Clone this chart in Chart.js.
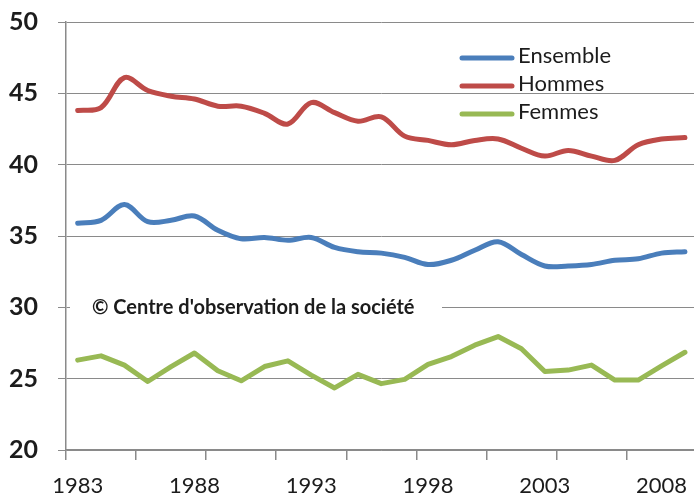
<!DOCTYPE html>
<html>
<head>
<meta charset="utf-8">
<script src="https://cdn.jsdelivr.net/npm/chart.js@4.4.1/dist/chart.umd.min.js"></script>
<style>
  html, body { margin: 0; padding: 0; background: #fff; overflow: hidden; }
  #wrap { width: 700px; height: 495px; }
</style>
</head>
<body>
<div id="wrap"><canvas id="chart"></canvas></div>
<script>
const years = ['1983','1984','1985','1986','1987','1988','1989','1990','1991','1992','1993','1994','1995',
               '1996','1997','1998','1999','2000','2001','2002','2003','2004','2005','2006','2007','2008','2009'];
const ensemble = [35.9, 36.1, 37.2, 36.0, 36.1, 36.4, 35.4, 34.8, 34.9, 34.7, 34.9, 34.2, 33.9,
                  33.8, 33.5, 33.0, 33.3, 34.0, 34.6, 33.7, 32.9, 32.9, 33.0, 33.3, 33.4, 33.8, 33.9];
const hommes = [43.8, 44.0, 46.1, 45.2, 44.8, 44.6, 44.1, 44.1, 43.6, 42.85, 44.35, 43.65, 43.05,
                43.35, 42.0, 41.7, 41.4, 41.7, 41.8, 41.15, 40.6, 41.0, 40.6, 40.3, 41.4, 41.8, 41.9];
const femmes = [26.3, 26.6, 25.95, 24.8, 25.85, 26.8, 25.55, 24.85, 25.85, 26.25, 25.25, 24.35, 25.3,
                24.65, 24.95, 26.0, 26.55, 27.35, 27.95, 27.1, 25.5, 25.6, 25.95, 24.9, 24.9, 25.9, 26.85];
const xTickLabels = ['1983', '1988', '1993', '1998', '2003', '2008'];
const yTicks = [20, 25, 30, 35, 40, 45, 50];
const source = '\u00a9 Centre d\'observation de la soci\u00e9t\u00e9';

const txt = '#1c1c1c';
const gris = '#8a8a8a';

// legende a droite en haut, dessinee a partir des datasets
const legendePerso = {
  id: 'legendePerso',
  afterDraw(chart) {
    const ctx = chart.ctx;
    ctx.save();
    ctx.font = '22px Lato';
    ctx.textBaseline = 'alphabetic';
    chart.data.datasets.forEach((ds, i) => {
      const y = 58 + i * 28;
      ctx.strokeStyle = ds.borderColor;
      ctx.lineWidth = 5;
      ctx.lineCap = 'round';
      ctx.beginPath();
      ctx.moveTo(462, y);
      ctx.lineTo(512, y);
      ctx.stroke();
      ctx.fillStyle = txt;
      ctx.fillText(ds.label, 518, y + 5);
    });
    ctx.restore();
  }
};

// cartouche du copyright, fond blanc sur la grille
const copyright = {
  id: 'copyright',
  beforeDatasetsDraw(chart) {
    const ctx = chart.ctx;
    const y = chart.scales.y.getPixelForValue(30);
    ctx.save();
    ctx.fillStyle = '#fff';
    ctx.fillRect(70, y - 12, 372, 24);
    ctx.font = 'bold 20px Lato';
    ctx.fillStyle = txt;
    ctx.textBaseline = 'middle';
    ctx.fillText(source, 92, y);
    ctx.restore();
  }
};

new Chart(document.getElementById('chart'), {
  type: 'line',
  data: {
    labels: years,
    datasets: [
      { label: 'Ensemble', data: ensemble, borderColor: '#4a7ebb', tension: 0.35 },
      { label: 'Hommes', data: hommes, borderColor: '#be4b48', tension: 0.35 },
      { label: 'Femmes', data: femmes, borderColor: '#98b954', tension: 0 }
    ]
  },
  options: {
    responsive: true,
    maintainAspectRatio: false,
    animation: false,
    layout: { padding: { top: 22, right: 3, left: 0, bottom: 0 } },
    elements: {
      point: { radius: 0 },
      line: { borderWidth: 5, borderJoinStyle: 'round', borderCapStyle: 'round', fill: false }
    },
    plugins: {
      legend: { display: false },
      tooltip: { enabled: false }
    },
    scales: {
      x: {
        offset: true,
        grid: {
          offset: true,
          drawOnChartArea: false,
          tickLength: 10,
          color: c => (c.index % 3 === 0 ? gris : 'rgba(0,0,0,0)'),
          lineWidth: 1.5
        },
        border: { color: gris, width: 1.5 },
        ticks: {
          autoSkip: false,
          maxRotation: 0,
          padding: 15,
          color: txt,
          font: { family: 'Lato', size: 22, lineHeight: 1 },
          callback: function (v, i) {
            const l = this.getLabelForValue(v);
            return xTickLabels.includes(l) ? l : '';
          }
        },
        afterFit: s => { s.height = 45; s.paddingTop = 0; s.paddingBottom = 0; }
      },
      y: {
        min: yTicks[0],
        max: yTicks[yTicks.length - 1],
        afterBuildTicks: s => { s.ticks = yTicks.map(v => ({ value: v })); },
        grid: { color: gris, lineWidth: 1, tickLength: 8 },
        border: { color: gris, width: 1.5 },
        ticks: {
          padding: 20,
          color: txt,
          font: { family: 'Lato', size: 25, weight: 'bold', lineHeight: 1 }
        },
        afterFit: s => { s.width = 66; s.paddingTop = 0; s.paddingBottom = 0; }
      }
    }
  },
  plugins: [copyright, legendePerso]
});
</script>
</body>
</html>
